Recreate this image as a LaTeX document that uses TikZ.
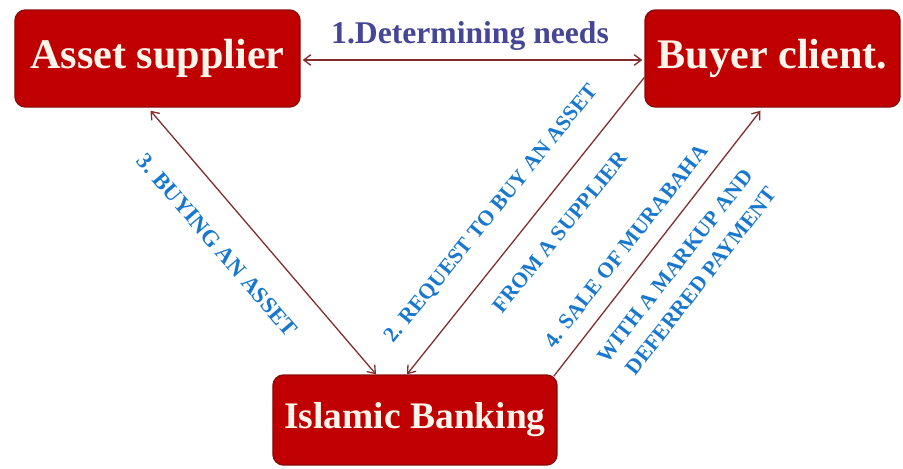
\documentclass[tikz,border=0pt]{standalone}
\usepackage{fontspec}
\setmainfont{Liberation Serif}
\usetikzlibrary{calc,arrows.meta}
\definecolor{boxred}{RGB}{192,0,0}
\definecolor{boxedge}{RGB}{140,10,10}
\definecolor{linkred}{RGB}{130,45,45}
\definecolor{steplabel}{RGB}{25,120,205}
\definecolor{needlabel}{RGB}{70,70,150}
\tikzset{
	party/.style={draw=boxedge, line width=1.2pt, fill=boxred, rounded corners=9pt, text=white!92!orange, font=\bfseries\fontsize{36}{40}\selectfont},
	link/.style={draw=linkred, line width=1.1pt, arrows={-Straight Barb[length=6pt,width=9pt]}},
	steptext/.style={text=steplabel, font=\bfseries\fontsize{18.5}{20}\selectfont, inner sep=0pt}
}

\begin{document}
\begin{tikzpicture}[x=0.03cm, y=-0.03cm]
			%%%%% START %%%%%
			\useasboundingbox (0, 0) rectangle (903, 468);
			
			\node[party, minimum width=8.55cm, minimum height=2.91cm] (supplier) at (157.5, 58.5) {Asset supplier};
			\node[party, minimum width=7.65cm, minimum height=2.91cm] (buyer) at (772.5, 58.5) {Buyer client.};
			\node[party, minimum width=8.52cm, minimum height=2.7cm, font=\bfseries\fontsize{32}{36}\selectfont] (bank) at (415, 420) {Islamic Banking};
			
			% 1
			\draw[link, arrows={Straight Barb[length=6pt,width=9pt]-Straight Barb[length=6pt,width=9pt]}] ($(supplier.east)+(2, 1.5)$) -- ($(buyer.west)+(-2, 1.5)$);
			\node[text=needlabel, font=\bfseries\fontsize{27}{30}\selectfont] (needs) at (470, 36) {1.Determining needs};
			
			% 2
			\draw[link] ($(buyer.west)+(0, 19)$) -- ($(bank.north)+(-8, 0)$);
			\node[steptext, rotate=51] (request) at (492, 214) {2. REQUEST TO BUY AN ASSET};
			\node[steptext, rotate=51] (fromsupplier) at (560, 232) {FROM A SUPPLIER};
			
			% 3
			\draw[link, arrows={Straight Barb[length=6pt,width=9pt]-Straight Barb[length=6pt,width=9pt]}] ($(supplier.south)+(-7, 3)$) -- ($(bank.north)+(-39, 0)$);
			\node[steptext, rotate=-49.4, font=\bfseries\fontsize{19.5}{21}\selectfont] (buying) at (217, 245) {3. BUYING AN ASSET};
			
			% 4
			\draw[link] ($(bank.north east)+(-4, 2)$) -- ($(buyer.south)+(-12, 3)$);
			\node[steptext, rotate=52] (sale) at (626, 246) {4. SALE OF MURABAHA};
			\node[steptext, rotate=52] (markup) at (675, 266) {WITH A MARKUP AND};
			\node[steptext, rotate=52] (deferred) at (701, 281) {DEFERRED PAYMENT};
			%%%%% END %%%%%
\end{tikzpicture}
\end{document}
